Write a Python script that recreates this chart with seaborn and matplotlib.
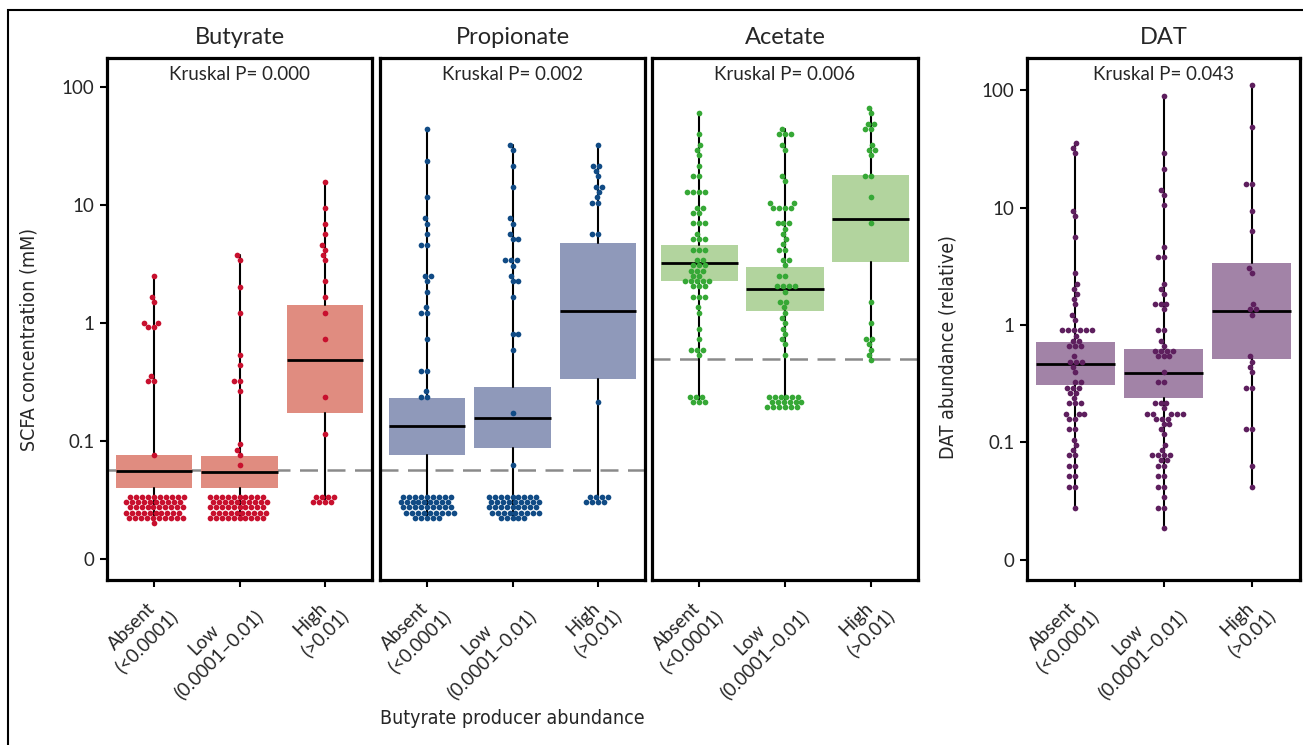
import numpy as np
import pandas as pd
import matplotlib
matplotlib.use("Agg")
import matplotlib.pyplot as plt
import seaborn as sns
from matplotlib.patches import Rectangle

sns.set_style("ticks")
plt.rcParams["font.family"] = ["Lato", "DejaVu Sans"]

# ---------------- data ----------------
categories = ["Absent\n(<0.0001)", "Low\n(0.0001–0.01)", "High\n(>0.01)"]
panel_titles = ["Butyrate", "Propionate", "Acetate", "DAT"]
kruskal_labels = ["Kruskal P= 0.000", "Kruskal P= 0.002", "Kruskal P= 0.006", "Kruskal P= 0.043"]
detection_limits = [0.0564, 0.0564, 0.50, None]
ytick_values = [0.01, 0.1, 1, 10, 100]
ytick_labels = ["0", "0.1", "1", "10", "100"]

# Butyrate
but_absent_vals = [2.5, 1.66, 1.5, 1.0, 0.92, 0.357, 0.323, 0.0766, 0.0336, 0.0303, 0.0274, 0.0247, 0.0224, 0.0201]
but_absent_counts = [1, 1, 1, 2, 2, 1, 2, 1, 10, 10, 10, 10, 10, 1]
but_low_vals = [3.78, 3.41, 2.04, 1.22, 0.535, 0.437, 0.323, 0.263, 0.0938, 0.0845, 0.0766, 0.0622,
                0.0336, 0.0303, 0.0274, 0.0247, 0.0224]
but_low_counts = [1, 1, 1, 1, 1, 1, 2, 1, 1, 1, 1, 1, 10, 10, 10, 10, 10]
but_high_vals = [15.9, 9.55, 6.98, 5.70, 4.63, 4.19, 3.78, 3.41, 2.26, 1.66, 1.22, 0.731, 0.235, 0.1155, 0.0336, 0.0304]
but_high_counts = [1, 1, 1, 1, 1, 1, 1, 1, 1, 1, 1, 1, 1, 1, 4, 4]
but_q1 = [0.0399, 0.0399, 0.173]
but_med = [0.0553, 0.0542, 0.491]
but_q3 = [0.0756, 0.0741, 1.42]

# Propionate
pro_absent_vals = [44.5, 23.9, 11.7, 7.75, 6.98, 5.70, 4.63, 2.51, 2.26, 1.85, 1.36, 1.22, 0.731, 0.396, 0.263, 0.236,
                   0.0336, 0.0303, 0.0274, 0.0247, 0.0224]
pro_absent_counts = [1, 1, 1, 1, 1, 1, 2, 2, 1, 1, 1, 2, 1, 2, 1, 2, 9, 9, 9, 9, 5]
pro_low_vals = [32.7, 29.5, 21.7, 14.4, 7.75, 6.98, 5.70, 5.14, 3.41, 3.07, 2.51, 2.26, 1.66, 0.811, 0.593, 0.174, 0.0622,
                0.0336, 0.0303, 0.0274, 0.0247, 0.0224]
pro_low_counts = [1, 1, 1, 1, 1, 1, 1, 2, 3, 1, 1, 2, 1, 2, 1, 1, 1, 9, 9, 9, 9, 5]
pro_high_vals = [32.7, 21.7, 19.6, 17.6, 14.4, 13.0, 11.7, 10.5, 5.70, 0.213, 0.0336, 0.0303]
pro_high_counts = [1, 2, 1, 1, 2, 1, 1, 2, 2, 1, 4, 4]
pro_q1 = [0.076, 0.0872, 0.336]
pro_med = [0.133, 0.158, 1.26]
pro_q3 = [0.231, 0.286, 4.81]

# Acetate
ace_absent_vals = [60.4, 40.1, 32.5, 29.5, 26.6, 21.7, 17.7, 13.0, 9.55, 8.60, 7.03, 5.70, 5.14, 4.20, 3.43, 3.09,
                   2.78, 2.51, 2.27, 2.05, 1.66, 1.36, 1.22, 0.90, 0.731, 0.597, 0.538, 0.237, 0.215]
ace_absent_counts = [1, 1, 1, 1, 1, 1, 2, 4, 2, 2, 3, 1, 3, 3, 2, 3, 3, 2, 5, 3, 3, 1, 1, 1, 1, 3, 1, 3, 3]
ace_low_vals = [44.2, 40.1, 32.5, 29.5, 17.7, 16.0, 10.5, 9.55, 7.03, 6.33, 5.70, 5.14, 4.66, 4.20, 3.43, 3.09, 2.51,
                2.05, 1.85, 1.51, 1.36, 1.22, 1.10, 1.0, 0.90, 0.811, 0.731, 0.663, 0.538, 0.237, 0.215, 0.193]
ace_low_counts = [1, 3, 1, 1, 1, 1, 2, 4, 3, 1, 1, 1, 1, 2, 2, 1, 2, 4, 1, 2, 1, 1, 1, 1, 1, 1, 1, 1, 1, 6, 6, 6]
ace_high_vals = [67.1, 60.4, 49.1, 44.5, 32.5, 29.5, 26.6, 17.7, 11.7, 7.03, 1.51, 1.0, 0.731, 0.663, 0.597, 0.538, 0.485]
ace_high_counts = [1, 1, 2, 2, 1, 2, 1, 2, 1, 1, 1, 1, 2, 1, 1, 1, 1]
ace_q1 = [2.29, 1.27, 3.32]
ace_med = [3.25, 1.96, 7.69]
ace_q3 = [4.60, 2.99, 18.1]

# DAT
dat_absent_vals = [35.8, 32.3, 29.1, 9.43, 8.55, 5.66, 2.77, 2.25, 2.04, 1.84, 1.67, 1.50, 1.22, 1.11, 0.90, 0.81,
                   0.735, 0.662, 0.541, 0.487, 0.441, 0.397, 0.325, 0.292, 0.265, 0.239, 0.215, 0.175, 0.159, 0.129,
                   0.105, 0.0948, 0.0860, 0.0775, 0.0632, 0.0516, 0.0419, 0.0277]
dat_absent_counts = [1, 1, 1, 1, 1, 1, 1, 1, 1, 1, 1, 1, 1, 1, 6, 1, 2, 3, 1, 3, 1, 1, 2, 3, 2, 1, 3, 3, 2, 2,
                     1, 1, 1, 2, 2, 2, 2, 1]
dat_low_vals = [89.6, 29.1, 21.4, 14.2, 12.8, 10.5, 4.62, 3.78, 2.25, 2.04, 1.84, 1.50, 1.36, 0.90, 0.735, 0.662,
                0.597, 0.541, 0.397, 0.325, 0.215, 0.195, 0.175, 0.159, 0.143, 0.129, 0.117, 0.0948, 0.086, 0.0775,
                0.0702, 0.0632, 0.0516, 0.0419, 0.0342, 0.0277, 0.0185]
dat_low_counts = [1, 1, 1, 1, 1, 1, 1, 2, 1, 1, 1, 3, 1, 2, 1, 1, 4, 3, 1, 2, 3, 1, 5, 3, 2, 1, 1, 1, 1, 4,
                  2, 2, 2, 2, 1, 2, 1]
dat_high_vals = [110.5, 48.5, 15.8, 9.43, 6.29, 3.06, 2.77, 1.50, 1.36, 1.22, 0.541, 0.487, 0.441, 0.397, 0.292,
                 0.129, 0.0632, 0.0419]
dat_high_counts = [1, 1, 2, 1, 1, 1, 1, 1, 2, 1, 1, 1, 1, 1, 2, 2, 1, 1]
dat_q1 = [0.310, 0.240, 0.513]
dat_med = [0.468, 0.390, 1.32]
dat_q3 = [0.716, 0.624, 3.38]

point_colors = ["#C8102E", "#114B85", "#36A836", "#5E1F5E"]
box_colors = ["#E08C80", "#8F99BA", "#B2D49E", "#A283A7"]

panels = [
    ((but_absent_vals, but_absent_counts), (but_low_vals, but_low_counts), (but_high_vals, but_high_counts),
     but_q1, but_med, but_q3),
    ((pro_absent_vals, pro_absent_counts), (pro_low_vals, pro_low_counts), (pro_high_vals, pro_high_counts),
     pro_q1, pro_med, pro_q3),
    ((ace_absent_vals, ace_absent_counts), (ace_low_vals, ace_low_counts), (ace_high_vals, ace_high_counts),
     ace_q1, ace_med, ace_q3),
    ((dat_absent_vals, dat_absent_counts), (dat_low_vals, dat_low_counts), (dat_high_vals, dat_high_counts),
     dat_q1, dat_med, dat_q3),
]

# ---------------- figure ----------------
W, H = 1303, 745
fig = plt.figure(figsize=(W / 100, H / 100), dpi=100)

axes_px = [(107, 265), (380, 265), (652, 266), (1027, 273)]
ax_top, ax_bot = 58, 580
ylims = [(10 ** -2.18, 10 ** 2.25)] * 3 + [(10 ** -2.174, 10 ** 2.276)]

cond_kw = dict(family="DejaVu Sans", stretch="condensed")

for i, (px, pw) in enumerate(axes_px):
    ax = fig.add_axes([px / W, 1 - ax_bot / H, pw / W, (ax_bot - ax_top) / H])
    ax.set_yscale("log")
    g_abs, g_low, g_high, q1, med, q3 = panels[i]
    rows = []
    for cat, (vals, cnts) in zip(categories, (g_abs, g_low, g_high)):
        for v in np.repeat(vals, cnts):
            rows.append((cat, v))
    df = pd.DataFrame(rows, columns=["group", "value"])

    # detection-limit line
    if detection_limits[i] is not None:
        ax.axhline(detection_limits[i], color="#8a8a8a", lw=1.8, ls=(0, (7.2, 3.8)), zorder=1)

    # boxes (summary stats), whiskers to min/max of the points
    stats = []
    for k, cat in enumerate(categories):
        d = df.loc[df.group == cat, "value"]
        stats.append(dict(med=med[k], q1=q1[k], q3=q3[k], whislo=d.min(), whishi=d.max(), fliers=[]))
    ax.bxp(stats, positions=[0, 1, 2], widths=0.9, showcaps=False, showfliers=False, patch_artist=True,
           boxprops=dict(facecolor=box_colors[i], edgecolor="none", linewidth=0),
           whiskerprops=dict(color="black", linewidth=1.5),
           medianprops=dict(color="black", linewidth=2.0), zorder=2)

    sns.swarmplot(data=df, x="group", y="value", order=categories, color=point_colors[i],
                  size=4.1, linewidth=0, ax=ax, zorder=3)

    ax.set_xlim(-0.55, 2.55)
    ax.set_ylim(*ylims[i])
    ax.set_xlabel("")
    ax.set_ylabel("")
    ax.set_xticks([0, 1, 2])
    ax.set_xticklabels(categories, rotation=45, ha="right", va="top", rotation_mode="anchor",
                       multialignment="center", fontsize=13.5)
    ax.minorticks_off()
    ax.tick_params(axis="x", length=5, width=1.5, color="black", pad=4)
    if i in (0, 3):
        ax.set_yticks(ytick_values)
        ax.set_yticklabels(ytick_labels, fontsize=13.5)
        ax.tick_params(axis="y", length=5, width=1.5, color="black", pad=4)
        ax.yaxis.set_minor_locator(matplotlib.ticker.NullLocator())
    else:
        ax.set_yticks([])
        ax.yaxis.set_minor_locator(matplotlib.ticker.NullLocator())
    for s in ax.spines.values():
        s.set_linewidth(2.3)
        s.set_color("black")
        s.set_visible(True)

    ax.text(0.5, 1 + 20 / 522, panel_titles[i], transform=ax.transAxes, ha="center", va="center", fontsize=17)
    ax.text(0.5, 1 - 17 / 522, kruskal_labels[i], transform=ax.transAxes, ha="center", va="center", fontsize=13.5)

    if i == 0:
        ax.set_ylabel("SCFA concentration (mM)", fontsize=14, **cond_kw)
        ax.yaxis.set_label_coords(-0.26, 0.46)
    if i == 3:
        ax.set_ylabel("DAT abundance (relative)", fontsize=14, **cond_kw)
        ax.yaxis.set_label_coords(-0.256, 0.446)

fig.text(512 / W, 1 - 718 / H, "Butyrate producer abundance", ha="center", va="center", fontsize=14, **cond_kw)

frame = Rectangle((8 / W, -0.05), 1.1, 1 - 10 / H + 0.05, transform=fig.transFigure, fill=False,
                  edgecolor="black", linewidth=1.5)
fig.patches.append(frame)

fig.savefig("out.png", dpi=100)
